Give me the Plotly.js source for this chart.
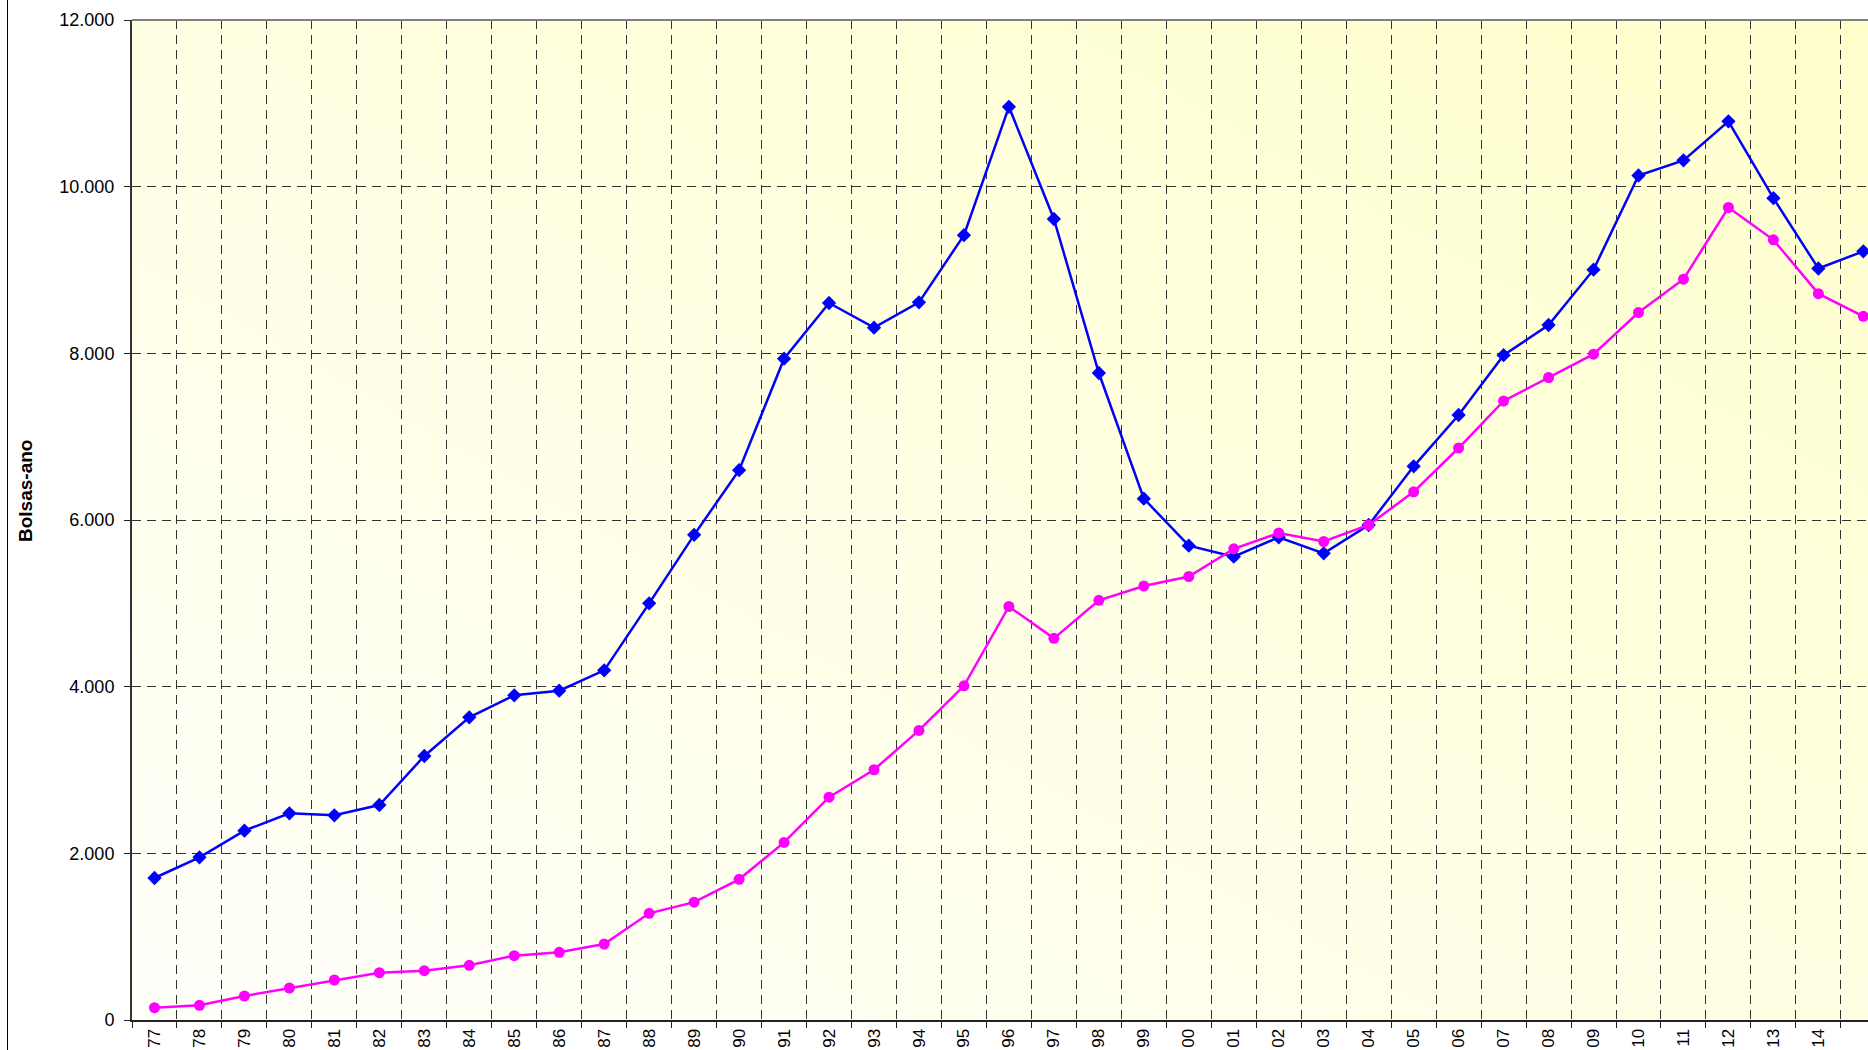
<!DOCTYPE html>
<html>
<head>
<meta charset="utf-8">
<script src="https://cdn.plot.ly/plotly-3.0.1.min.js"></script>
<style>
  html, body { margin: 0; padding: 0; background: #ffffff; overflow: hidden; }
  #wrap { position: relative; width: 1868px; height: 1050px; }
  #bg { position: absolute; left: 132px; top: 20px; width: 1736px; height: 1000px;
        background: linear-gradient(to top right, #fffffb 0%, #ffffe6 45%, #ffffcc 100%); z-index: 0; }
  #chart { position: absolute; left: 0; top: 0; width: 1868px; height: 1050px; z-index: 1; }
</style>
</head>
<body>
<div id="wrap">
  <div id="bg"></div>
  <div id="chart"></div>
</div>
<script>
// Year labels (category axis)
const years = ["77","78","79","80","81","82","83","84","85","86","87","88","89","90",
  "91","92","93","94","95","96","97","98","99","00","01","02","03","04","05","06",
  "07","08","09","10","11","12","13","14","15"];

// Tick labels visible in the picture (the last year's label falls outside it)
const tickLabels = years.slice(0, years.length - 1);

// Blue series (diamonds)
const seriesBlue = [1704,1952,2272,2480,2456,2580,3168,3632,3896,3952,4196,5000,5822,6598,
  7936,8604,8308,8612,9418,10958,9612,7764,6256,5692,5560,5792,5600,5940,6644,7260,
  7978,8340,9004,10134,10316,10784,9862,9018,9224];

// Magenta series (circles)
const seriesMagenta = [148,176,288,384,480,568,592,656,772,812,912,1280,1414,1688,
  2131,2674,3003,3475,4010,4962,4580,5036,5208,5322,5654,5844,5742,5940,6338,6864,
  7428,7710,7990,8490,8890,9750,9362,8716,8444];

const yTicks = [0,2000,4000,6000,8000,10000,12000];
const yTitle = "Bolsas-ano";

const traces = [
  {
    x: years, y: seriesBlue, type: "scatter", mode: "lines+markers",
    line: {color: "#0000ff", width: 2.5},
    marker: {symbol: "diamond", size: 11, color: "#0000ff"},
    cliponaxis: false, showlegend: false
  },
  {
    x: years, y: seriesMagenta, type: "scatter", mode: "lines+markers",
    line: {color: "#ff00ff", width: 2.5},
    marker: {symbol: "circle", size: 11, color: "#ff00ff"},
    cliponaxis: false, showlegend: false
  }
];

const plotW = 1868 - 132;
const layout = {
  width: 1868, height: 1050,
  margin: {l: 132, r: 0, t: 20, b: 30},
  paper_bgcolor: "rgba(0,0,0,0)",
  plot_bgcolor: "rgba(0,0,0,0)",
  separators: ",.",
  font: {family: "Liberation Sans, Arial, Helvetica, sans-serif", color: "#000", size: 18},
  xaxis: {
    type: "category",
    range: [-0.5, -0.5 + plotW / 44.97],
    tickson: "boundaries",
    tickmode: "array", tickvals: tickLabels, ticktext: tickLabels,
    ticks: "outside", ticklen: 6, tickwidth: 1, tickcolor: "#222",
    tickangle: -90,
    tickfont: {size: 17, color: "#000"},
    showgrid: true, gridcolor: "#333", gridwidth: 1, griddash: "9px,6px",
    showline: true, linecolor: "#222", linewidth: 2,
    zeroline: false, fixedrange: true
  },
  yaxis: {
    range: [0, 12000],
    tickvals: yTicks,
    tickformat: ",d",
    ticks: "outside", ticklen: 6, tickwidth: 1, tickcolor: "#222",
    ticklabelstandoff: 6,
    tickfont: {size: 18, color: "#000"},
    showgrid: true, gridcolor: "#333", gridwidth: 1, griddash: "9px,6px",
    showline: true, linecolor: "#333", linewidth: 2,
    zeroline: false, fixedrange: true
  },
  shapes: [
    {type: "line", xref: "paper", yref: "paper", x0: 0, x1: 1, y0: 1, y1: 1,
     line: {color: "#808080", width: 2}},
    {type: "line", xref: "paper", yref: "paper",
     x0: (7.5 - 132) / plotW, x1: (7.5 - 132) / plotW, y0: -0.03, y1: 1.02,
     line: {color: "#000", width: 1}}
  ],
  annotations: [
    {text: "<b>" + yTitle + "</b>", xref: "paper", yref: "paper",
     x: (25 - 132) / plotW, y: (1020 - 491) / 1000, textangle: -90,
     showarrow: false, font: {size: 19, color: "#000"}, xanchor: "center", yanchor: "middle"}
  ]
};

Plotly.newPlot("chart", traces, layout, {staticPlot: true, displayModeBar: false});
</script>
</body>
</html>
